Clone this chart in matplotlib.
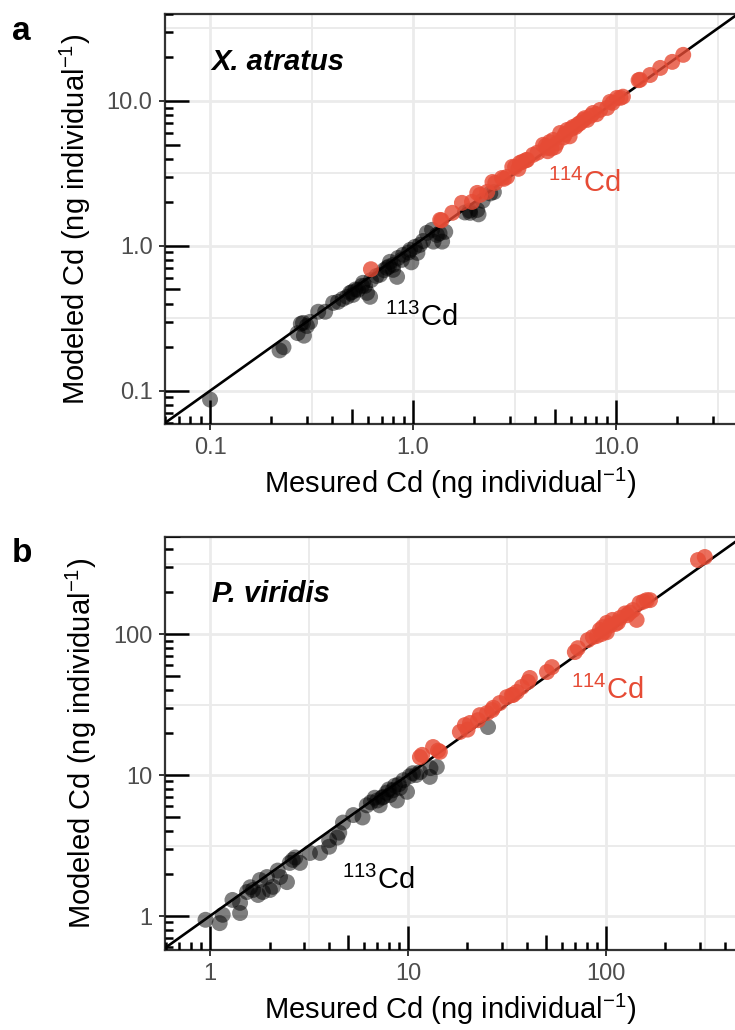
import matplotlib
matplotlib.use('Agg')
import matplotlib.pyplot as plt
from matplotlib.ticker import FixedLocator, NullFormatter

plt.rcParams['font.family'] = ['Liberation Sans', 'DejaVu Sans']
plt.rcParams['mathtext.fontset'] = 'custom'
plt.rcParams['mathtext.rm'] = 'Liberation Sans'
plt.rcParams['mathtext.it'] = 'Liberation Sans:italic'
plt.rcParams['mathtext.bf'] = 'Liberation Sans:bold'

# ---- panel a : X. atratus ----
xa_113_meas = [0.10, 0.22, 0.23, 0.27, 0.28, 0.29, 0.30, 0.287, 0.311, 0.341, 0.369, 0.404,
               0.427, 0.473, 0.49, 0.506, 0.535, 0.567, 0.593, 0.614, 0.687, 0.744, 0.77,
               0.797, 0.834, 0.843, 0.893, 0.967, 1.02, 1.08, 1.05, 1.17, 1.24, 1.31, 1.39,
               1.44, 1.26, 1.91, 2.07, 1.8, 1.9, 2.1, 2.2, 2.4, 2.5, 0.45, 0.52, 0.56, 0.62,
               0.66, 0.72, 0.76, 0.88, 0.95, 0.98, 1.12, 1.35, 0.5, 0.58, 0.8]
xa_113_mod = [0.087, 0.19, 0.20, 0.25, 0.29, 0.24, 0.28, 0.294, 0.299, 0.351, 0.351, 0.404,
              0.411, 0.445, 0.474, 0.459, 0.498, 0.556, 0.474, 0.445, 0.632, 0.705, 0.776,
              0.683, 0.611, 0.826, 0.868, 0.938, 0.984, 1.016, 0.895, 1.23, 1.29, 1.19, 1.07,
              1.25, 1.07, 1.69, 1.77, 1.7, 1.75, 1.65, 2.05, 2.3, 2.35, 0.43, 0.50, 0.53, 0.58,
              0.62, 0.68, 0.72, 0.80, 0.90, 0.77, 1.08, 1.22, 0.48, 0.53, 0.74]
xa_114_meas = [0.62, 1.36, 1.56, 1.74, 1.95, 2.14, 2.32, 2.54, 2.74, 2.9, 3.18, 3.36, 3.64,
               3.9, 4.37, 4.57, 4.9, 5.3, 5.74, 6.14, 6.65, 7.2, 7.7, 8.34, 9.03, 9.34, 10.5,
               10.8, 13.1, 14.7, 16.5, 18.9, 21.4, 1.38, 2.07, 2.46, 3.08, 3.45, 4.5, 4.6,
               5.1, 5.5, 5.9, 6.3, 6.9, 7.5, 8.0, 9.6, 10.1, 12.9, 3.3, 4.1, 4.8, 6.0,
               4.7, 5.0, 5.6, 6.5, 7.0, 2.8, 3.6]
xa_114_mod = [0.69, 1.51, 1.69, 1.98, 2.01, 2.25, 2.36, 2.72, 2.94, 2.99, 3.51, 3.74, 3.92,
              4.25, 4.98, 4.74, 5.38, 6.01, 6.31, 6.62, 7.05, 7.4, 8.26, 8.67, 8.95, 9.85, 10.5,
              10.7, 14.0, 15.1, 16.9, 18.6, 20.8, 1.5, 2.32, 2.76, 3.51, 3.8, 4.9, 4.5,
              5.1, 5.6, 5.7, 6.6, 7.4, 7.9, 8.1, 9.7, 10.5, 13.9, 3.4, 4.4, 4.7, 6.4,
              5.2, 4.8, 5.9, 6.9, 7.6, 2.9, 3.9]

# ---- panel b : P. viridis ----
pv_113_meas = [0.95, 1.12, 1.16, 1.42, 1.42, 1.54, 1.65, 1.75, 1.85, 2.01, 2.08, 2.26, 2.45,
               1.79, 1.94, 1.6, 2.53, 2.62, 2.85, 3.2, 3.6, 4.0, 4.0, 4.4, 4.5, 4.7, 5.3, 5.9,
               6.2, 7.0, 7.2, 7.5, 8.1, 8.4, 8.8, 9.1, 9.9, 10.6, 11.5, 12.9, 14.0, 25.4, 6.8,
               7.8, 8.6, 9.5, 10.2, 11.0, 13.0, 1.3, 2.2, 2.7, 6.5, 7.4, 8.0, 9.0]
pv_113_mod = [0.94, 0.89, 1.02, 1.05, 1.24, 1.48, 1.53, 1.41, 1.48, 1.53, 1.61, 1.89, 1.74,
              1.8, 1.89, 1.6, 2.38, 2.5, 2.38, 2.8, 2.8, 3.45, 3.1, 3.6, 3.9, 4.6, 5.2, 5.0,
              6.1, 6.6, 6.1, 7.0, 7.2, 7.8, 6.6, 8.1, 7.6, 10.3, 10.5, 9.7, 11.4, 21.9, 6.9,
              7.5, 8.4, 9.2, 9.8, 10.0, 11.2, 1.3, 2.1, 2.6, 6.4, 6.9, 7.9, 8.6]
pv_114_meas = [11.5, 13.4, 14.5, 11.8, 14.2, 18.3, 19.4, 20.6, 22.6, 23.1, 25.1, 26.6, 29.1,
               31.6, 33.5, 35.5, 37.6, 40.4, 41.3, 50.4, 53.4, 69.7, 72.2, 81.1, 86, 93.3, 96.6,
               101, 108, 118, 128, 137, 148, 161, 167, 143, 101, 292, 316, 20, 27, 34, 95, 105,
               112, 125, 155, 90, 98, 115, 132]
pv_114_mod = [13.4, 15.8, 14.6, 13.9, 14.9, 20.2, 22.6, 23.4, 24.5, 26.6, 27.5, 28.9, 32.4,
              35.7, 36.9, 38.8, 42.1, 45.7, 48.8, 53.8, 58.3, 74.5, 79.4, 90.6, 95.2, 107, 112,
              120, 126, 130, 136, 148, 166, 174, 174, 126, 103, 335, 352, 21, 30, 37, 100, 115,
              118, 140, 170, 97, 104, 121, 142]

RED = '#E64B35'
GRID = '#EBEBEB'
BORDER = '#333333'
TICKCOL = '#4D4D4D'

fig = plt.figure(figsize=(7.35, 10.3), dpi=100)
W, H = 735, 1030


def logticks(ax, w_px, h_px):
    for k in range(-3, 4):
        for m in range(1, 10):
            v = m * 10.0 ** k
            L = 24 if m == 1 else (15 if m == 5 else 8)
            ax.plot([v, v], [0, L / h_px], transform=ax.get_xaxis_transform(),
                    color='black', lw=1.8, solid_capstyle='butt', zorder=5)
            ax.plot([0, L / w_px], [v, v], transform=ax.get_yaxis_transform(),
                    color='black', lw=1.8, solid_capstyle='butt', zorder=5)


def panel(box, xlim, ylim, ticks, labels, bx, by, rx, ry, letter, species, sp_y, p113, p114):
    left, top, right, bottom = box
    ax = fig.add_axes([left / W, 1 - bottom / H, (right - left) / W, (bottom - top) / H])
    ax.set_xscale('log')
    ax.set_yscale('log')
    minors = [t * 10 ** 0.5 for t in ticks] + [ticks[0] / 10 ** 0.5]
    for axis in (ax.xaxis, ax.yaxis):
        axis.set_major_locator(FixedLocator(ticks))
        axis.set_minor_locator(FixedLocator(minors))
        axis.set_minor_formatter(NullFormatter())
    ax.set_xticks(ticks, labels)
    ax.set_yticks(ticks, labels)
    ax.grid(which='major', color=GRID, lw=2.0)
    ax.grid(which='minor', color=GRID, lw=1.4)
    ax.set_axisbelow(True)
    ax.tick_params(which='minor', length=0)
    ax.tick_params(which='major', direction='out', length=4, width=1.4, color=BORDER,
                   labelsize=17, labelcolor=TICKCOL)
    ax.tick_params(axis='x', pad=5)
    ax.tick_params(axis='y', pad=5)

    ax.plot([1e-3, 1e4], [1e-3, 1e4], color='black', lw=1.9, zorder=2.5)
    ax.scatter(bx, by, s=132, color='black', alpha=0.5, edgecolors='none', zorder=3)
    ax.scatter(rx, ry, s=132, color=RED, alpha=0.8, edgecolors='none', zorder=3.2)
    logticks(ax, right - left, bottom - top)

    ax.set_xlim(xlim)
    ax.set_ylim(ylim)
    for s in ('top', 'left', 'bottom'):
        ax.spines[s].set_color(BORDER)
        ax.spines[s].set_linewidth(1.6)
    ax.spines['right'].set_visible(False)

    ax.set_xlabel('Mesured Cd (ng individual$^{-1}$)', fontsize=21, labelpad=5)
    ax.set_ylabel('Modeled Cd (ng individual$^{-1}$)', fontsize=21, labelpad=10)
    ax.text(0.082, sp_y, species, transform=ax.transAxes,
            fontsize=21, fontweight='bold', style='italic', va='center', ha='left')
    ax.text(p113[0], p113[1], '$^{113}$Cd', fontsize=21, ha='center', va='center', color='black')
    ax.text(p114[0], p114[1], '$^{114}$Cd', fontsize=21, ha='center', va='center', color=RED)
    fig.text(12 / W, 1 - (top + 17) / H, letter, fontsize=24, fontweight='bold',
             ha='left', va='center')
    return ax


panel((165, 14, 735, 424), (0.06, 38.5), (0.059, 39.8), [0.1, 1, 10], ['0.1', '1.0', '10.0'],
      xa_113_meas, xa_113_mod, xa_114_meas, xa_114_mod, 'a', 'X. atratus', 0.882,
      (1.1, 0.32), (7.0, 2.7))
panel((165, 537, 735, 950), (0.593, 449), (0.574, 488), [1, 10, 100], ['1', '10', '100'],
      pv_113_meas, pv_113_mod, pv_114_meas, pv_114_mod, 'b', 'P. viridis', 0.862,
      (7.05, 1.8), (101, 40))

fig.savefig('out.png', dpi=100)
